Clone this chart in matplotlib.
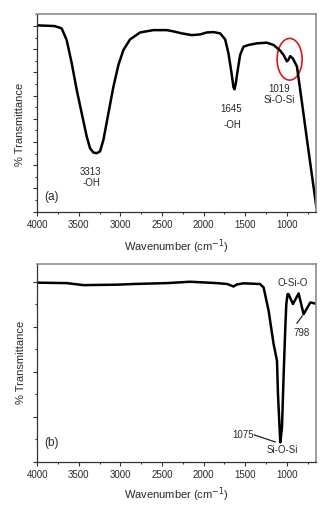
import matplotlib
matplotlib.use("Agg")
import matplotlib.pyplot as plt
from matplotlib.patches import Ellipse
from matplotlib.ticker import MultipleLocator, NullFormatter

plt.rcParams['font.family'] = ['Liberation Sans', 'DejaVu Sans']

# ---- data panel (a) ----
wn_a = [4000, 3791, 3707, 3647, 3586, 3526, 3466, 3406, 3366, 3326, 3286, 3246,
        3205, 3145, 3085, 3025, 2965, 2885, 2764, 2604, 2443, 2363, 2263, 2143,
        2043, 1962, 1882, 1802, 1742, 1702, 1662, 1642, 1630, 1614, 1594, 1562,
        1522, 1462, 1362, 1242, 1160, 1080, 1040, 1000, 980, 960, 928, 879,
        818, 758, 703, 646]
t_a = [16.05, 15.99, 15.79, 14.79, 12.78, 10.49, 8.48, 6.48, 5.47, 5.10, 5.04, 5.19,
       6.19, 8.48, 10.77, 12.64, 13.93, 14.84, 15.44, 15.64, 15.64, 15.53, 15.36, 15.21,
       15.27, 15.44, 15.47, 15.36, 14.84, 13.64, 11.78, 10.72, 10.54, 11.06, 12.06, 13.50,
       14.21, 14.36, 14.50, 14.56, 14.36, 13.87, 13.50, 12.95, 13.10, 13.40, 13.20, 12.50,
       9.36, 6.18, 3.34, 0.41]

# ---- data panel (b) ----
wn_b = [4000, 3647, 3446, 3045, 2844, 2443, 2162, 1841, 1717, 1641, 1600, 1520,
        1324, 1280, 1220, 1160, 1119, 1107, 1088, 1079, 1059, 1040, 1019, 1007,
        992, 980, 927, 859, 799, 718, 646]
t_b = [7.96, 7.94, 7.85, 7.87, 7.90, 7.94, 8.00, 7.94, 7.90, 7.79, 7.88, 7.93,
       7.90, 7.75, 6.72, 5.24, 4.49, 3.00, 1.52, 0.86, 1.52, 3.75, 5.97, 7.00,
       7.45, 7.45, 7.01, 7.48, 6.56, 7.08, 7.02]

x_ticks = [4000, 3500, 3000, 2500, 2000, 1500, 1000]

W, H = 335, 516
fig = plt.figure(figsize=(W / 100, H / 100), dpi=100)

ax_a = fig.add_axes([0.1113, 0.5897, 0.832, 0.3832])
ax_b = fig.add_axes([0.1113, 0.1052, 0.832, 0.3832])

txt_col = '#2a2a2a'

def style(ax, ytop):
    ax.set_xlim(4000, 650)
    ax.set_ylim(0, ytop)
    ax.set_xticks(x_ticks)
    ax.xaxis.set_minor_locator(MultipleLocator(250))
    ax.yaxis.set_major_locator(MultipleLocator(2))
    ax.yaxis.set_minor_locator(MultipleLocator(1))
    ax.yaxis.set_major_formatter(NullFormatter())
    ax.tick_params(which='major', direction='out', length=3, width=0.8,
                   color='#333333', labelsize=7, labelcolor=txt_col, pad=3)
    ax.tick_params(which='minor', direction='out', length=1.6, width=0.8,
                   color='#333333')
    for s in ['left', 'bottom']:
        ax.spines[s].set_color('#333333')
        ax.spines[s].set_linewidth(0.9)
    for s in ['top', 'right']:
        ax.spines[s].set_color('#8c8c8c')
        ax.spines[s].set_linewidth(1.2)
    ax.set_xlabel('Wavenumber (cm$^{-1}$)', fontsize=8, color=txt_col)
    ax.set_ylabel('% Transmittance', fontsize=8, color=txt_col)

style(ax_a, 17.03)
style(ax_b, 8.79)

ax_a.plot(wn_a, t_a, color='black', lw=1.8, solid_joinstyle='round')
ax_b.plot(wn_b, t_b, color='black', lw=1.8, solid_joinstyle='round')

ax_a.xaxis.set_label_coords(0.5, -0.175)
ax_a.xaxis.label.set_va('center')
ax_b.xaxis.set_label_coords(0.5, -0.168)
ax_b.xaxis.label.set_va('center')
ax_a.yaxis.set_label_coords(-0.062, 0.44)
ax_a.yaxis.label.set_va('center')
ax_b.yaxis.set_label_coords(-0.058, 0.5)
ax_b.yaxis.label.set_va('center')

fs = 7
kw = dict(ha='center', va='center', fontsize=fs, color=txt_col)
ax_a.text(3357, 3.39, '3313', **kw)
ax_a.text(3345, 2.50, '-OH', **kw)
ax_a.text(1669, 8.85, '1645', **kw)
ax_a.text(1653, 7.47, '-OH', **kw)
ax_a.text(1093, 10.54, '1019', **kw)
ax_a.text(1093, 9.62, 'Si-O-Si', **kw)
ax_a.text(3827, 1.29, '(a)', ha='center', va='center', fontsize=8.5, color=txt_col)
ax_a.add_patch(Ellipse((967, 13.13), 301, 3.59, fill=False, edgecolor='#e0141e', lw=1.2))

ax_b.text(927, 7.96, 'O-Si-O', **kw)
ax_b.text(827, 5.73, '798', **kw)
ax_b.plot([879, 815], [6.16, 6.48], color='#222222', lw=0.9)
ax_b.text(1525, 1.19, '1075', **kw)
ax_b.plot([1392, 1140], [1.19, 0.88], color='#222222', lw=0.9)
ax_b.text(1055, 0.52, 'Si-O-Si', **kw)
ax_b.text(3827, 0.82, '(b)', ha='center', va='center', fontsize=8.5, color=txt_col)

fig.savefig('out.png', dpi=100)
